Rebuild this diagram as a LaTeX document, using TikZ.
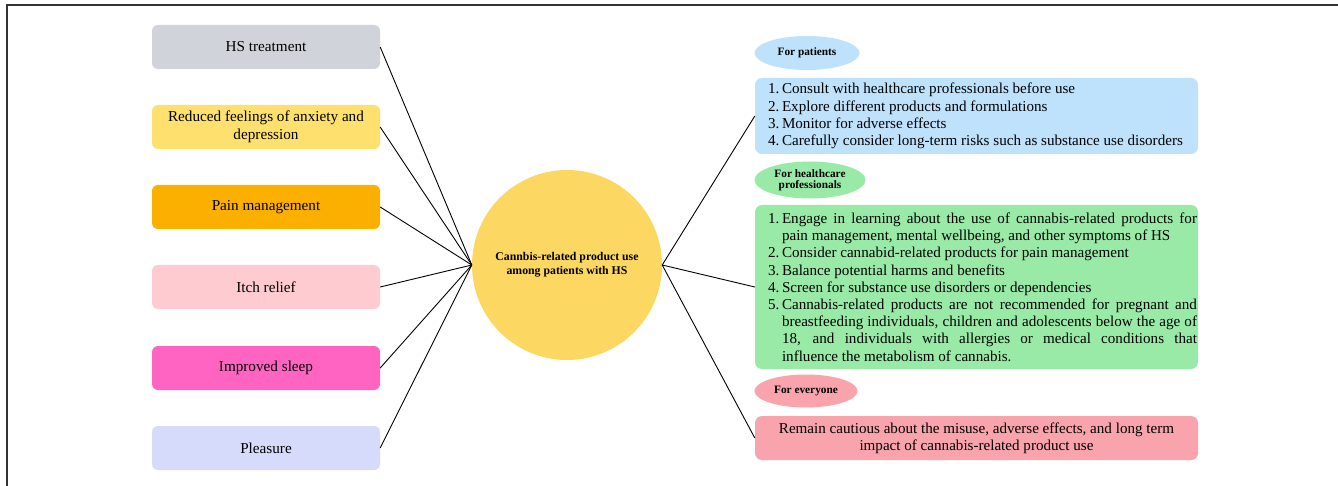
\documentclass[tikz,border=0pt]{standalone}
\usepackage{fontspec}
\setmainfont{Liberation Serif}
\usetikzlibrary{shapes.geometric}
\definecolor{cgray}{RGB}{208,211,217}
\definecolor{cyel}{RGB}{253,224,110}
\definecolor{corange}{RGB}{251,176,0}
\definecolor{cpinkl}{RGB}{253,203,208}
\definecolor{cmag}{RGB}{255,100,195}
\definecolor{clav}{RGB}{214,218,251}
\definecolor{ccirc}{RGB}{252,215,98}
\definecolor{cblue}{RGB}{190,226,252}
\definecolor{cgreen}{RGB}{152,234,166}
\definecolor{cpink}{RGB}{249,163,172}
\newcommand{\itm}[2]{\par\hangindent=14pt\hangafter=1\noindent\makebox[14pt][l]{#1}#2}
\begin{document}
\begin{tikzpicture}[x=1pt,y=-1pt,
  lbox/.style={rounded corners=6pt, minimum width=228pt, minimum height=44pt, inner sep=0pt, align=center,
    font=\fontsize{15.2}{18}\selectfont},
  rbox/.style={rounded corners=7pt, minimum width=443pt, inner sep=0pt, font=\fontsize{15.1}{17.2}\selectfont},
  tag/.style={ellipse, inner sep=0pt, align=center, font=\fontsize{11.3}{11}\selectfont\bfseries},
  conn/.style={draw=black, line width=0.9pt}]
\useasboundingbox (0,0) rectangle (1338,486);
\fill[white] (0,0) rectangle (1338,486);
\draw[line width=1.4pt, black!80] (7,486) -- (7,5) -- (1338,5);
% left boxes
\node[lbox, fill=cgray] (a) at (266,47) {HS treatment};
\node[lbox, fill=cyel] (b) at (266,127) {Reduced feelings of anxiety and\\depression};
\node[lbox, fill=corange] (c) at (266,207) {Pain management};
\node[lbox, fill=cpinkl] (d) at (266,287) {Itch relief};
\node[lbox, fill=cmag] (e) at (266,368) {Improved sleep};
\node[lbox, fill=clav] (f) at (266,448) {Pleasure};
% centre
\node[circle, fill=ccirc, minimum size=190pt, inner sep=0pt, align=center,
  font=\fontsize{11.8}{14}\selectfont\bfseries] (m) at (567,265) {Cannbis-related product use\\among patients with HS};
% right tags
\node[tag, fill=cblue, minimum width=105pt, minimum height=34pt] (tp) at (807,53) {For patients};
\node[tag, fill=cgreen, minimum width=111pt, minimum height=37pt] (th) at (810,180) {For healthcare\\professionals};
\node[tag, fill=cpink, minimum width=103pt, minimum height=33pt] (te) at (806,391) {For everyone};
% right boxes
\node[rbox, fill=cblue, minimum height=76pt] (p) at (976.5,116) {\hspace*{12pt}\parbox{429pt}{\raggedright
\itm{1.}{Consult with healthcare professionals before use}
\itm{2.}{Explore different products and formulations}
\itm{3.}{Monitor for adverse effects}
\itm{4.}{Carefully consider long-term risks such as substance use disorders}}};
\node[rbox, fill=cgreen, minimum height=164pt] (h) at (976.5,287) {\hspace*{12pt}\parbox{429pt}{\hyphenpenalty=10000\exhyphenpenalty=10000
\itm{1.}{Engage in learning about the use of cannabis-related products for\linebreak pain management, mental wellbeing, and other symptoms of HS}
\itm{2.}{Consider cannabid-related products for pain management}
\itm{3.}{Balance potential harms and benefits}
\itm{4.}{Screen for substance use disorders or dependencies}
\itm{5.}{Cannabis-related products are not recommended for pregnant and\linebreak breastfeeding individuals, children and adolescents below the age of\linebreak 18, and individuals with allergies or medical conditions that\linebreak influence the metabolism of cannabis.}}};
\node[rbox, fill=cpink, minimum height=44pt, align=center] (g) at (976.5,438) {Remain cautious about the misuse, adverse effects, and long term\\impact of cannabis-related product use};
% connectors
\foreach \n in {a,b,c,d,e,f} \draw[conn] (\n.east) -- (m.west);
\foreach \n in {p,h,g} \draw[conn] (m.east) -- (\n.west);
\end{tikzpicture}
\end{document}
